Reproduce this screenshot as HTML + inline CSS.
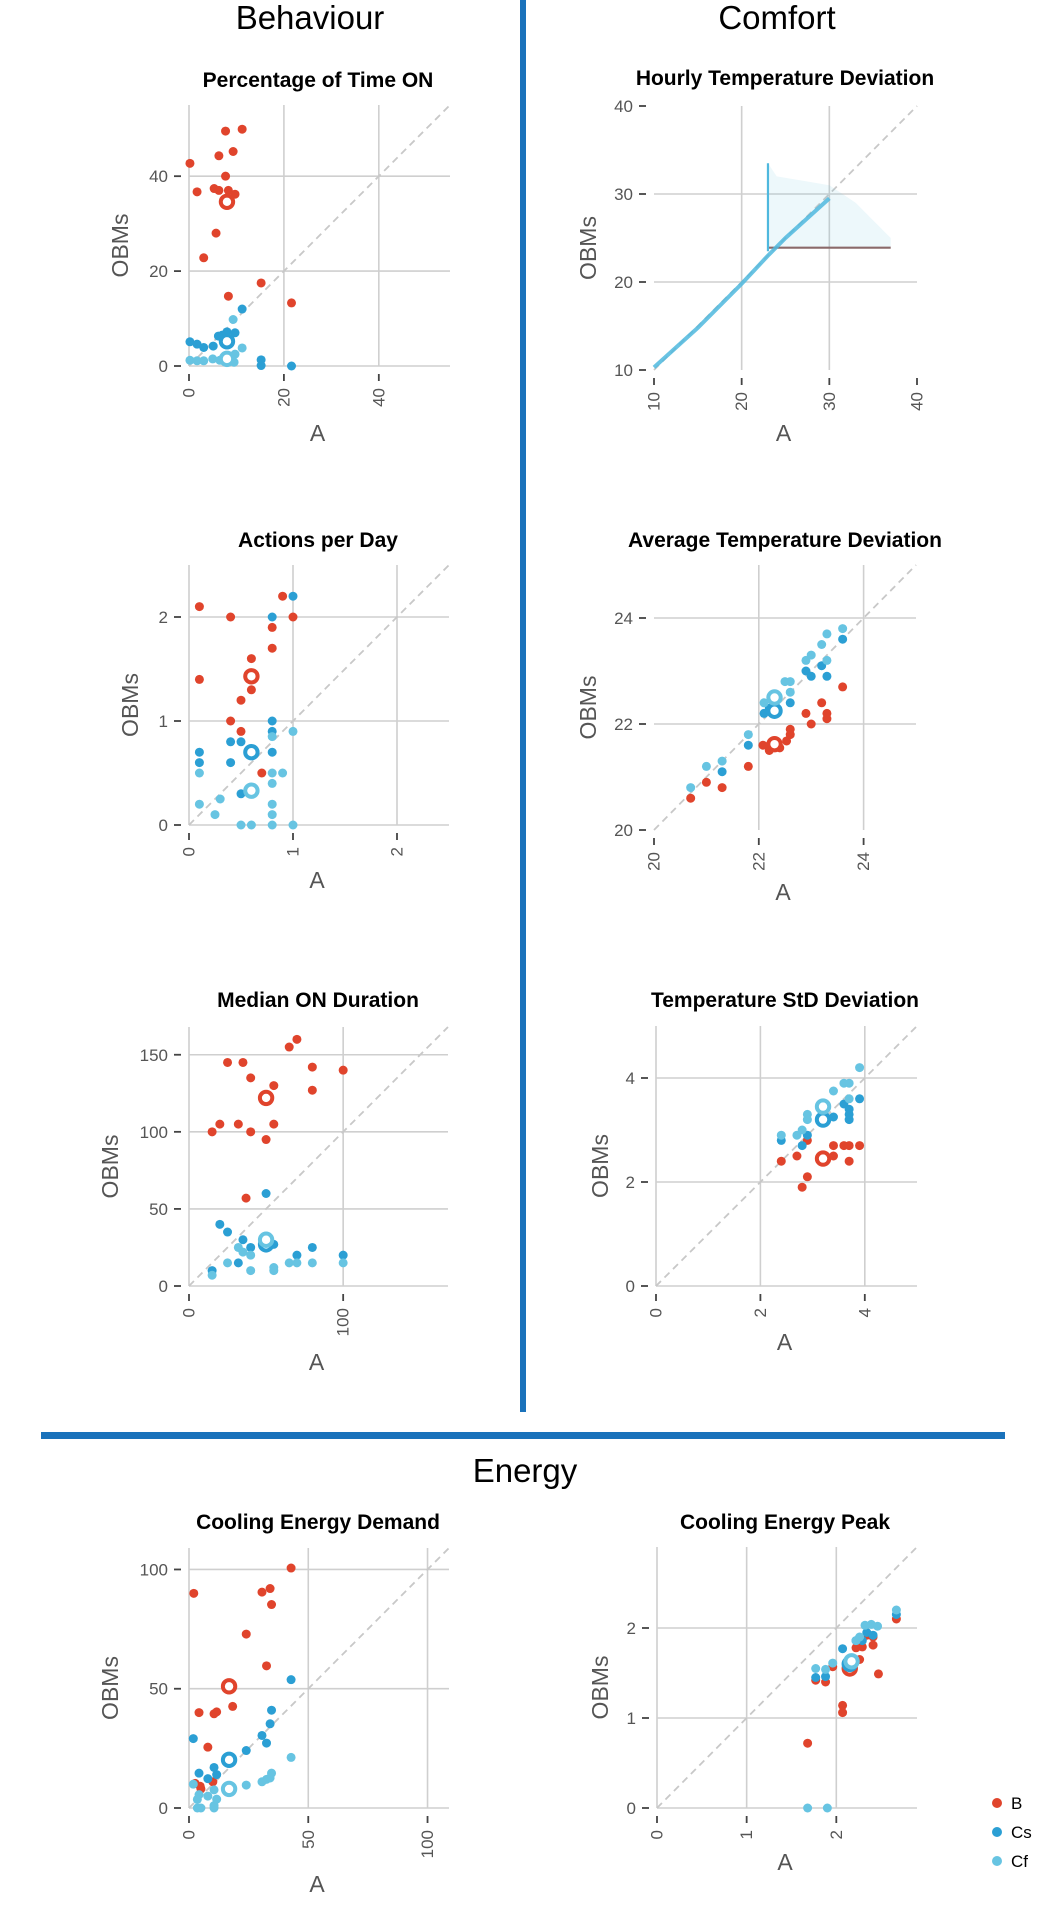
<!DOCTYPE html>
<html><head><meta charset="utf-8"><style>
html,body{margin:0;padding:0;background:#fff;}
svg{display:block;font-family:"Liberation Sans",sans-serif;}
</style></head><body>
<svg id="fig" width="1039" height="1914" viewBox="0 0 1039 1914" xmlns="http://www.w3.org/2000/svg">
<text x="310" y="29" font-size="33" text-anchor="middle" fill="#000">Behaviour</text>
<text x="777" y="29" font-size="33" text-anchor="middle" fill="#000">Comfort</text>
<text x="525" y="1482" font-size="33" text-anchor="middle" fill="#000">Energy</text>
<rect x="520" y="0" width="6" height="1412" fill="#1a72bb"/>
<rect x="41" y="1432" width="964" height="7" fill="#1a72bb"/>
<g>
<circle cx="997" cy="1803" r="5" fill="#e0442c"/>
<text x="1011" y="1809" font-size="17">B</text>
<circle cx="997" cy="1832" r="5" fill="#2b9fd4"/>
<text x="1011" y="1838" font-size="17">Cs</text>
<circle cx="997" cy="1861" r="5" fill="#67c4e2"/>
<text x="1011" y="1867" font-size="17">Cf</text>
</g>
</svg>
<script>
// ---- data ----
const p1Ticks=[0,20,40];
const p1B=[[0.2,42.7],[1.7,36.7],[3.1,22.8],[5.7,28],[5.3,37.4],[6.3,37],[6.3,44.3],[7.7,49.5],[11.2,49.9],[9.3,45.2],[7.7,40],[8.3,37],[9.7,36.2],[8.3,14.7],[15.2,17.5],[21.6,13.3]];
const p1Cs=[[0.2,5.1],[1.7,4.6],[3.1,3.9],[5.1,4.2],[6.2,6.3],[8,7.2],[9.7,7],[11.2,12],[15.2,1.3],[15.2,0.1],[21.6,0],[7,6.5]];
const p1Cf=[[0.2,1.2],[1.7,1.1],[3.1,1.1],[5,1.5],[11.2,3.8],[9.7,2.5],[9.3,9.8],[6.5,1.2],[9.5,0.8]];
const p1Mean=[[8,34.6],[8,5.2],[8,1.5]];

const p2Ticks=[10,20,30,40];
const p2DiagX=[10,15,20,23,25,30];
const p2DiagY=[10.3,14.8,19.8,23,25,29.5];
const p2CloudX=[23,23,24,27,30,33,35,37,37];
const p2CloudY=[24,33.5,32,31.5,31,29,27,25,24];
const p2StemX=[23,23];
const p2StemY=[23.5,33.5];
const p2FlatX=[23,37];
const p2FlatY=[23.9,23.9];

const p3Ticks=[0,1,2];
const p3B=[[0.1,2.1],[0.1,1.4],[0.4,2.0],[0.8,1.9],[0.8,1.7],[0.9,2.2],[1.0,2.0],[0.6,1.6],[0.6,1.3],[0.5,1.2],[0.4,1.0],[0.5,0.9],[0.7,0.5]];
const p3Cs=[[1.0,2.2],[0.8,2.0],[0.8,1.0],[0.4,0.8],[0.5,0.8],[0.4,0.6],[0.8,0.7],[0.8,0.9],[0.5,0.3],[0.1,0.7],[0.1,0.6]];
const p3Cf=[[1.0,0.9],[0.8,0.85],[0.1,0.2],[0.3,0.25],[0.8,0.4],[0.9,0.5],[0.8,0.5],[0.8,0.2],[0.8,0.1],[1.0,0],[0.8,0],[0.6,0],[0.5,0],[0.25,0.1],[0.1,0.5]];
const p3Mean=[[0.6,1.43],[0.6,0.7],[0.6,0.33]];

const p4Ticks=[20,22,24];
const p4B=[[20.7,20.6],[21.0,20.9],[21.3,20.8],[21.8,21.2],[22.08,21.6],[22.2,21.5],[22.4,21.55],[22.53,21.68],[22.6,21.8],[22.6,21.9],[22.9,22.2],[23.0,22.0],[23.2,22.4],[23.3,22.2],[23.3,22.1],[23.6,22.7]];
const p4Cs=[[21.3,21.1],[21.8,21.6],[22.1,22.2],[22.2,22.3],[22.6,22.4],[22.9,23.0],[23.0,22.9],[23.2,23.1],[23.3,22.9],[23.6,23.6]];
const p4Cf=[[20.7,20.8],[21.0,21.2],[21.3,21.3],[21.8,21.8],[22.1,22.4],[22.5,22.8],[22.6,22.8],[22.6,22.6],[22.9,23.2],[23.0,23.3],[23.2,23.5],[23.3,23.7],[23.3,23.2],[23.6,23.8]];
const p4Mean=[[22.3,21.62],[22.3,22.25],[22.3,22.5]];

const p5XTicks=[0,100];
const p5YTicks=[0,50,100,150];
const p5B=[[15,100],[20,105],[25,145],[32,105],[35,145],[40,135],[40,100],[50,95],[55,130],[55,105],[65,155],[70,160],[80,142],[80,127],[100,140],[37,57]];
const p5Cs=[[15,10],[20,40],[25,35],[32,15],[35,30],[40,25],[50,60],[50,26],[55,27],[70,20],[80,25],[100,20]];
const p5Cf=[[15,7],[25,15],[32,25],[35,22],[40,20],[40,10],[55,10],[55,12],[65,15],[70,15],[80,15],[100,15]];
const p5Mean=[[50,122],[50,27],[50,30]];

const p6Ticks=[0,2,4];
const p6B=[[2.4,2.4],[2.7,2.5],[2.8,1.9],[2.9,2.1],[2.9,2.8],[3.4,2.7],[3.4,2.5],[3.6,2.7],[3.7,2.7],[3.7,2.4],[3.9,2.7]];
const p6Cs=[[2.4,2.8],[2.8,2.7],[2.9,2.9],[3.4,3.25],[3.6,3.5],[3.7,3.4],[3.7,3.2],[3.7,3.3],[3.9,3.6]];
const p6Cf=[[2.4,2.9],[2.7,2.9],[2.8,3.0],[2.9,3.3],[2.9,3.2],[3.4,3.75],[3.6,3.9],[3.7,3.9],[3.7,3.6],[3.9,4.2]];
const p6Mean=[[3.2,2.45],[3.2,3.2],[3.2,3.45]];

const p7Ticks=[0,50,100];
const p7B=[[2,90],[42.8,100.6],[30.6,90.5],[34,92],[34.6,85.3],[24,72.9],[32.5,59.6],[18.3,42.6],[4.2,40],[10.5,39.5],[11.6,40.3],[7.9,25.5],[2.6,10.3],[4.7,9.1],[5,8],[10,11]];
const p7Cs=[[1.8,29.1],[4.2,14.6],[7.9,12.3],[10.5,17],[11.6,14],[24,24.1],[30.6,30.4],[32.5,27.2],[34,35.3],[34.6,41],[42.8,53.8]];
const p7Cf=[[1.8,10],[3.5,3.6],[4.2,5.6],[7.9,5],[10.5,7.6],[10.5,1],[11.6,3.7],[24,9.6],[30.6,11],[32.5,12],[34,12.6],[34.6,14.6],[42.8,21.2],[3.5,0],[5,0],[10.5,0]];
const p7Mean=[[16.8,51],[16.8,20.2],[16.8,8]];

const p8Ticks=[0,1,2];
const p8B=[[1.68,0.72],[2.07,1.14],[2.07,1.06],[1.77,1.42],[1.88,1.40],[1.96,1.57],[2.22,1.78],[2.26,1.65],[2.29,1.79],[2.34,1.92],[2.41,1.81],[2.41,1.9],[2.47,1.49],[2.67,2.1]];
const p8Cs=[[1.77,1.45],[1.88,1.46],[2.07,1.77],[2.22,1.86],[2.29,1.86],[2.34,1.95],[2.41,1.92],[2.67,2.15]];
const p8Cf=[[1.68,0],[1.9,0],[1.77,1.55],[1.88,1.54],[1.96,1.61],[2.22,1.86],[2.26,1.9],[2.32,2.03],[2.39,2.04],[2.46,2.02],[2.67,2.2]];
const p8Mean=[[2.15,1.55],[2.15,1.6],[2.17,1.63]];

// ---- drawing ----
const NS='http://www.w3.org/2000/svg';
const svg=document.getElementById('fig');
const COL=['#e0442c','#2b9fd4','#67c4e2'];
const SER=['b','cs','cf'];
function mk(tag,attrs,parent){const e=document.createElementNS(NS,tag);for(const k in attrs)e.setAttribute(k,attrs[k]);(parent||svg).appendChild(e);return e;}

function panel(cfg){
  const g=mk('g',{});
  
  
  const sx=v=>cfg.x0+(v-cfg.xmin)/(cfg.xmax-cfg.xmin)*cfg.w;
  const sy=v=>cfg.y0-(v-cfg.ymin)/(cfg.ymax-cfg.ymin)*cfg.h;
  const t=mk('text',{x:cfg.tx,y:cfg.ty,'font-size':21,'font-weight':'bold','text-anchor':'middle',fill:'#000'},g);
  t.textContent=cfg.title;
  
  
  cfg.xgrid.forEach(v=>{const l=mk('line',{x1:sx(v),x2:sx(v),y1:cfg.y0,y2:cfg.y0-cfg.h,stroke:'#cfcfcf','stroke-width':1.6},g);
    
    });
  cfg.ygrid.forEach(v=>{const l=mk('line',{x1:cfg.x0,x2:cfg.x0+cfg.w,y1:sy(v),y2:sy(v),stroke:'#cfcfcf','stroke-width':1.6},g);
    
    });
  const lo=Math.max(cfg.xmin,cfg.ymin),hi=Math.min(cfg.xmax,cfg.ymax);
  const d=mk('line',{x1:sx(lo),y1:sy(lo),x2:sx(hi),y2:sy(hi),stroke:'#c8c8c8','stroke-width':1.8,'stroke-dasharray':'7,5'},g);
  
  
  cfg.yticks.forEach(v=>{
    const tk=mk('line',{x1:cfg.x0-15,x2:cfg.x0-8,y1:sy(v),y2:sy(v),stroke:'#444','stroke-width':1.8},g);
    
    
    const lb=mk('text',{x:cfg.x0-21,y:sy(v)+6,'font-size':17,'text-anchor':'end',fill:'#555'},g);
    lb.textContent=v;
    
    
  });
  cfg.xticks.forEach(v=>{
    const tk=mk('line',{x1:sx(v),x2:sx(v),y1:cfg.y0+8,y2:cfg.y0+15,stroke:'#444','stroke-width':1.8},g);
    
    
    const lb=mk('text',{x:0,y:0,'font-size':17,'text-anchor':'end','dominant-baseline':'central',fill:'#555',transform:'translate('+sx(v)+','+(cfg.y0+22)+') rotate(-90)'},g);
    lb.textContent=v;
    
    
  });
  const yl=mk('text',{x:0,y:0,'font-size':23,'text-anchor':'middle',fill:'#555',transform:'translate('+cfg.ylx+','+(cfg.y0-cfg.h/2+10)+') rotate(-90)'},g);
  yl.textContent='OBMs';
  
  
  const xl=mk('text',{x:cfg.x0+cfg.w/2-2,y:cfg.xly,'font-size':23,'text-anchor':'middle',fill:'#555'},g);
  xl.textContent='A';
  
  
  if(cfg.custom) cfg.custom(g,sx,sy);
  (cfg.series||[]).forEach((pts,i)=>{
    pts.forEach(p=>{
      const c=mk('circle',{cx:sx(p[0]),cy:sy(p[1]),r:4.5,fill:COL[i]},g);
      
      
    });
  });
  (cfg.means||[]).forEach((p,i)=>{
    const c=mk('circle',{cx:sx(p[0]),cy:sy(p[1]),r:6.2,fill:'#fff',stroke:COL[i],'stroke-width':4},g);
    
    
  });
}

panel({name:'time-on',title:'Percentage of Time ON',tx:318,ty:87,x0:189,y0:366,w:261,h:261,xmin:0,xmax:55,ymin:0,ymax:55,
  xticks:p1Ticks,yticks:p1Ticks,xgrid:p1Ticks,ygrid:p1Ticks,ylx:128,xly:441,series:[p1B,p1Cs,p1Cf],means:p1Mean});
panel({name:'hourly-temp',title:'Hourly Temperature Deviation',tx:785,ty:85,x0:654,y0:370,w:263,h:264,xmin:10,xmax:40,ymin:10,ymax:40,
  xticks:p2Ticks,yticks:p2Ticks,xgrid:[20,30],ygrid:[20,30],ylx:596,xly:441,
  custom:(g,sx,sy)=>{
    const cl=mk('polygon',{points:p2CloudX.map((x,i)=>sx(x)+','+sy(p2CloudY[i])).join(' '),fill:'#67c4e2','fill-opacity':0.12},g);
    
    
    const fl=mk('polyline',{points:p2FlatX.map((x,i)=>sx(x)+','+sy(p2FlatY[i])).join(' '),fill:'none',stroke:'#8a6a6a','stroke-width':2.2},g);
    
    
    const st=mk('polyline',{points:p2StemX.map((x,i)=>sx(x)+','+sy(p2StemY[i])).join(' '),fill:'none',stroke:'#4fb8de','stroke-width':2.2},g);
    
    
    const dg=mk('polyline',{points:p2DiagX.map((x,i)=>sx(x)+','+sy(p2DiagY[i])).join(' '),fill:'none',stroke:'#4fb8de','stroke-width':4,'stroke-opacity':0.85},g);
    
    
  }});
panel({name:'actions-per-day',title:'Actions per Day',tx:318,ty:547,x0:189,y0:825,w:260,h:260,xmin:0,xmax:2.5,ymin:0,ymax:2.5,
  xticks:p3Ticks,yticks:p3Ticks,xgrid:p3Ticks,ygrid:p3Ticks,ylx:138,xly:888,series:[p3B,p3Cs,p3Cf],means:p3Mean});
panel({name:'avg-temp',title:'Average Temperature Deviation',tx:785,ty:547,x0:654,y0:830,w:262,h:265,xmin:20,xmax:25,ymin:20,ymax:25,
  xticks:p4Ticks,yticks:p4Ticks,xgrid:[22,24],ygrid:[22,24],ylx:596,xly:900,series:[p4B,p4Cs,p4Cf],means:p4Mean});
panel({name:'median-on',title:'Median ON Duration',tx:318,ty:1007,x0:189,y0:1286,w:259,h:259,xmin:0,xmax:168,ymin:0,ymax:168,
  xticks:p5XTicks,yticks:p5YTicks,xgrid:p5XTicks,ygrid:p5YTicks,ylx:118,xly:1370,series:[p5B,p5Cs,p5Cf],means:p5Mean});
panel({name:'temp-std',title:'Temperature StD Deviation',tx:785,ty:1007,x0:656,y0:1286,w:261,h:260,xmin:0,xmax:5,ymin:0,ymax:5,
  xticks:p6Ticks,yticks:p6Ticks,xgrid:p6Ticks,ygrid:p6Ticks,ylx:608,xly:1350,series:[p6B,p6Cs,p6Cf],means:p6Mean});
panel({name:'cooling-demand',title:'Cooling Energy Demand',tx:318,ty:1529,x0:189,y0:1808,w:260,h:260,xmin:0,xmax:109,ymin:0,ymax:109,
  xticks:p7Ticks,yticks:p7Ticks,xgrid:p7Ticks,ygrid:p7Ticks,ylx:118,xly:1892,series:[p7B,p7Cs,p7Cf],means:p7Mean});
panel({name:'cooling-peak',title:'Cooling Energy Peak',tx:785,ty:1529,x0:657,y0:1808,w:260,h:261,xmin:0,xmax:2.9,ymin:0,ymax:2.9,
  xticks:p8Ticks,yticks:p8Ticks,xgrid:p8Ticks,ygrid:p8Ticks,ylx:608,xly:1870,series:[p8B,p8Cs,p8Cf],means:p8Mean});
</script>
</body></html>
